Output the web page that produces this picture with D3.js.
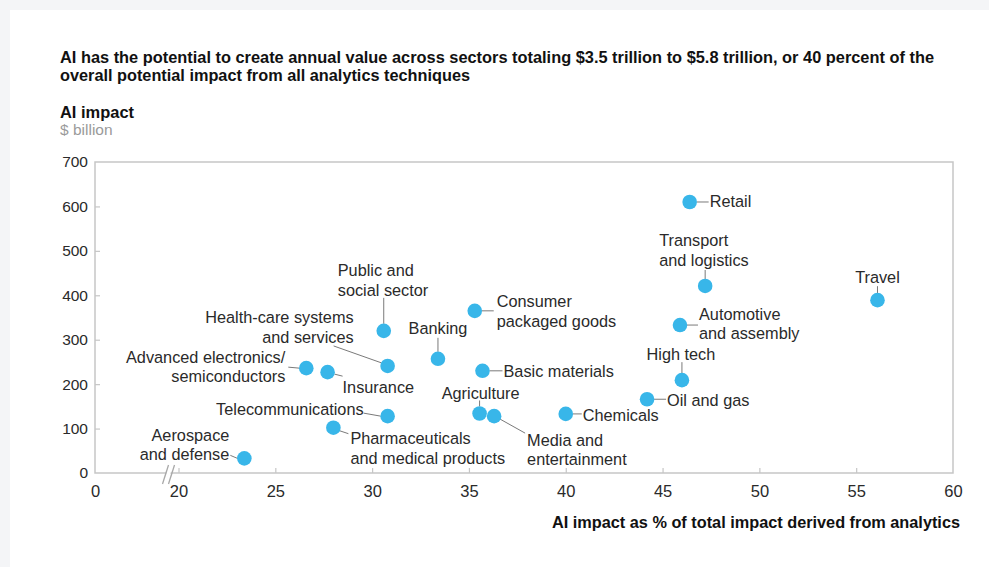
<!DOCTYPE html>
<html>
<head>
<meta charset="utf-8">
<script src="https://cdn.jsdelivr.net/npm/d3@7/dist/d3.min.js"></script>
<style>
  html, body { margin: 0; padding: 0; background: #f4f5f7; }
  svg { display: block; font-family: "Liberation Sans", Arial, Helvetica, sans-serif; }
</style>
</head>
<body>
<svg id="chart" width="989" height="567"></svg>
<script>
// ---------- DATA ----------
const sectors = ["Retail", "Transport and logistics", "Travel", "Automotive and assembly", "High tech",
  "Oil and gas", "Chemicals", "Media and entertainment", "Agriculture", "Basic materials",
  "Consumer packaged goods", "Banking", "Public and social sector", "Health-care systems and services",
  "Insurance", "Advanced electronics/semiconductors", "Telecommunications",
  "Pharmaceuticals and medical products", "Aerospace and defense"];
const aiSharePct = [46.4, 47.2, 56.1, 45.9, 46.0, 44.2, 40.0, 36.3, 35.55, 35.7, 35.3, 33.4, 30.6, 30.8, 27.7, 26.6, 30.8, 28.0, 23.4];
const aiImpactBn = [610, 421, 389, 333, 209, 166, 133, 128, 134, 230, 365, 257, 320, 241, 227, 236, 128, 102, 33];
const xTicks = [0, 20, 25, 30, 35, 40, 45, 50, 55, 60];
const yTicks = [0, 100, 200, 300, 400, 500, 600, 700];
const titleLines = ["AI has the potential to create annual value across sectors totaling $3.5 trillion to $5.8 trillion, or 40 percent of the",
  "overall potential impact from all analytics techniques"];
const yTitle = "AI impact";
const yUnit = "$ billion";
const xTitle = "AI impact as % of total impact derived from analytics";

// ---------- LABEL LAYOUT (offsets from dot, px) ----------
const labelLayout = {
  "Retail": {lines: ["Retail"], anchor: "start", dx: 20, dy: 0, lead: [7, 0, 19, 0]},
  "Transport and logistics": {lines: ["Transport", "and logistics"], anchor: "start", dx: -46, dy: -45, lead: [0, -16, 0, -7]},
  "Travel": {lines: ["Travel"], anchor: "middle", dx: 0, dy: -23, lead: [0, -14, 0, -7]},
  "Automotive and assembly": {lines: ["Automotive", "and assembly"], anchor: "start", dx: 19, dy: -11, lead: [7, 0, 18, 0]},
  "High tech": {lines: ["High tech"], anchor: "middle", dx: -1, dy: -26, lead: [0, -18, 0, -7]},
  "Oil and gas": {lines: ["Oil and gas"], anchor: "start", dx: 20, dy: 1, lead: [7, 0, 19, 0]},
  "Chemicals": {lines: ["Chemicals"], anchor: "start", dx: 17, dy: 2, lead: [7, 0, 16, 0]},
  "Media and entertainment": {lines: ["Media and", "entertainment"], anchor: "start", dx: 33, dy: 24, lead: [6, 3, 31, 17]},
  "Agriculture": {lines: ["Agriculture"], anchor: "middle", dx: 1, dy: -20, lead: [0, -13, 0, -7]},
  "Basic materials": {lines: ["Basic materials"], anchor: "start", dx: 21, dy: 1, lead: [7, 0, 20, 0]},
  "Consumer packaged goods": {lines: ["Consumer", "packaged goods"], anchor: "start", dx: 22, dy: -9, lead: [7, 0, 19, 0]},
  "Banking": {lines: ["Banking"], anchor: "middle", dx: 0, dy: -30, lead: [0, -21, 0, -7]},
  "Public and social sector": {lines: ["Public and", "social sector"], anchor: "start", dx: -46, dy: -60, lead: [0, -33, 0, -7]},
  "Health-care systems and services": {lines: ["Health-care systems", "and services"], anchor: "end", dx: -34, dy: -48, lead: [-54, -20, -6, -3]},
  "Insurance": {lines: ["Insurance"], anchor: "start", dx: 15, dy: 15, lead: [7, 2, 15, 4]},
  "Advanced electronics/semiconductors": {lines: ["Advanced electronics/", "semiconductors"], anchor: "end", dx: -21, dy: -11, lead: [-18, -1, -7, 0]},
  "Telecommunications": {lines: ["Telecommunications"], anchor: "end", dx: -24, dy: -7, lead: [-24, -3, -7, 0]},
  "Pharmaceuticals and medical products": {lines: ["Pharmaceuticals", "and medical products"], anchor: "start", dx: 17, dy: 11, lead: [6, 3, 15, 6]},
  "Aerospace and defense": {lines: ["Aerospace", "and defense"], anchor: "end", dx: -15, dy: -23, lead: [-14, -3, -7, 0]}
};

// ---------- DRAW ----------
const svg = d3.select("#chart");
svg.append("rect").attr("x", 0).attr("y", 0).attr("width", 989).attr("height", 567).attr("fill", "#f4f5f7");
svg.append("rect").attr("x", 10).attr("y", 10).attr("width", 979).attr("height", 557).attr("fill", "#ffffff");

const pLeft = 95, pRight = 953, pTop = 162, pBottom = 473;
const x = d3.scaleLinear().domain([0, 20, 60]).range([pLeft, 178.5, pRight]);
const y = d3.scaleLinear().domain([0, 700]).range([pBottom, pTop]);

// Title
const title = svg.append("g").attr("fill", "#111").attr("font-weight", "bold").attr("font-size", 16);
title.append("text").attr("x", 60).attr("y", 63).attr("textLength", 874).attr("lengthAdjust", "spacingAndGlyphs").text(titleLines[0]);
title.append("text").attr("x", 60).attr("y", 81).attr("textLength", 410).attr("lengthAdjust", "spacingAndGlyphs").text(titleLines[1]);
svg.append("text").attr("x", 60).attr("y", 118).attr("font-weight", "bold").attr("font-size", 16).attr("fill", "#111")
  .attr("textLength", 74).attr("lengthAdjust", "spacingAndGlyphs").text(yTitle);
svg.append("text").attr("x", 60).attr("y", 135).attr("font-size", 15.5).attr("fill", "#9a9a9a").text(yUnit);

// Frame
const axisColor = "#c6c6c6";
svg.append("rect").attr("x", pLeft).attr("y", pTop).attr("width", pRight - pLeft).attr("height", pBottom - pTop)
  .attr("fill", "none").attr("stroke", axisColor).attr("stroke-width", 1.5);

// Y axis
const yAxis = svg.append("g").attr("transform", `translate(${pLeft},0)`)
  .call(d3.axisLeft(y).tickValues(yTicks).tickSize(0).tickPadding(7));
yAxis.select(".domain").remove();
yAxis.selectAll("text").attr("font-size", 15.5).attr("fill", "#2a2a2a").attr("font-family", "Liberation Sans, Arial, sans-serif");
yAxis.selectAll(".tick").filter(d => d > 0 && d < 700).append("line")
  .attr("x1", 0).attr("x2", 5).attr("stroke", axisColor).attr("stroke-width", 1.2);

// X axis
const xAxis = svg.append("g").attr("transform", `translate(0,${pBottom})`)
  .call(d3.axisBottom(x).tickValues(xTicks).tickSize(0).tickPadding(12));
xAxis.select(".domain").remove();
xAxis.selectAll("text").attr("font-size", 16.5).attr("fill", "#2a2a2a").attr("font-family", "Liberation Sans, Arial, sans-serif");
xAxis.selectAll(".tick").filter(d => d >= 20 && d < 60).append("line")
  .attr("y1", 0).attr("y2", -5).attr("stroke", axisColor).attr("stroke-width", 1.2);

// Axis break
const bx = x(20) - 11;
svg.append("polygon")
  .attr("points", `${bx - 4},${pBottom + 9} ${bx + 2},${pBottom - 9} ${bx + 6},${pBottom - 9} ${bx},${pBottom + 9}`)
  .attr("fill", "#fff");
[0, 6].forEach(o => {
  svg.append("line").attr("x1", bx - 5 + o).attr("y1", pBottom + 11).attr("x2", bx + 1 + o).attr("y2", pBottom - 8)
    .attr("stroke", "#a8a8a8").attr("stroke-width", 1.3);
});

// X title
svg.append("text").attr("x", 960).attr("y", 528).attr("text-anchor", "end")
  .attr("font-weight", "bold").attr("font-size", 16).attr("fill", "#111")
  .attr("textLength", 408).attr("lengthAdjust", "spacingAndGlyphs").text(xTitle);

// Points + labels
const data = sectors.map((s, i) => ({name: s, px: aiSharePct[i], v: aiImpactBn[i]}));
const lbl = svg.append("g");
data.forEach(d => {
  const L = labelLayout[d.name];
  const cx = x(d.px), cy = y(d.v);
  lbl.append("line").attr("x1", cx + L.lead[0]).attr("y1", cy + L.lead[1]).attr("x2", cx + L.lead[2]).attr("y2", cy + L.lead[3])
    .attr("stroke", "#7a7a7a").attr("stroke-width", 1);
  const t = lbl.append("text").attr("text-anchor", L.anchor).attr("font-size", 16.3).attr("fill", "#2a2a2a");
  L.lines.forEach((ln, k) => {
    t.append("tspan").attr("x", cx + L.dx).attr("y", cy + L.dy + k * 19.5 + 5.5).text(ln);
  });
});
svg.append("g").selectAll("circle").data(data).join("circle")
  .attr("cx", d => x(d.px)).attr("cy", d => y(d.v)).attr("r", 7.3)
  .attr("fill", "#38b6e9");
</script>
</body>
</html>
